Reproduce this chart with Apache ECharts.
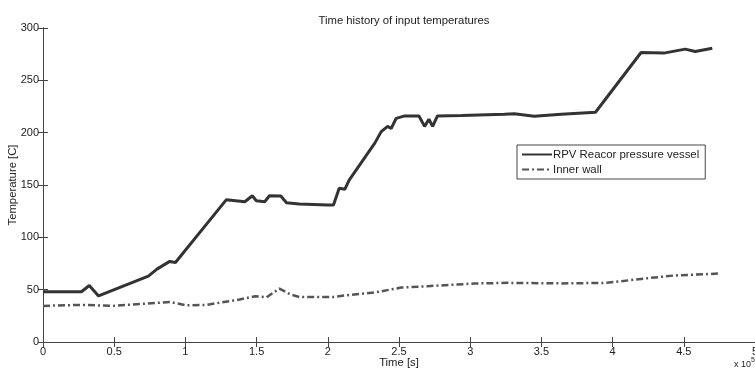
<!DOCTYPE html>
<html>
<head>
<meta charset="utf-8">
<script src="https://cdn.jsdelivr.net/npm/echarts@6/dist/echarts.min.js"></script>
<style>
  html, body { margin: 0; padding: 0; background: #fff; }
  #chart { width: 755px; height: 369px; }
</style>
</head>
<body>
<div id="chart"></div>
<script>
// time in seconds, temperature in C
const rpvTime = [0, 27000, 32500, 39000, 74000, 80000, 89000, 93000, 128800, 141700, 147000, 149800, 155700,
  159000, 167000, 171000, 180000, 200000, 204000, 208000, 212000, 215000, 233000, 237500, 242000, 244500,
  248000, 254000, 264000, 268000, 271000, 273600, 277000, 294000, 324000, 331000, 345000, 364000, 388000,
  420000, 436000, 451000, 458000, 470000];
const rpvTemp = [48, 48, 54, 44, 63, 69.6, 77, 76, 136, 134, 139.7, 135, 134,
  139.7, 139.5, 133, 131.8, 131, 131, 146.8, 146, 154.7, 190, 201, 206, 204,
  213.7, 216, 216, 206, 212.8, 206, 216, 216.5, 217.6, 218, 215.7, 217.6, 219.5,
  276.6, 276, 279.8, 277.5, 280.7];

const wallTime = [0, 27000, 49000, 73000, 89000, 101000, 115000, 138000, 149000, 157000, 166000, 174000,
  180000, 204000, 213000, 233000, 251500, 270000, 303000, 326000, 364000, 396000, 420000, 443000, 475000];
const wallTemp = [34.5, 35.5, 34.5, 36.7, 38.3, 35, 35.5, 40.6, 43.7, 42.7, 51, 45.3,
  43, 43, 44.6, 47.3, 52, 53.3, 55.9, 56.5, 56, 56.5, 60.3, 63.5, 65.4];

const xTicks = [0, 0.5, 1, 1.5, 2, 2.5, 3, 3.5, 4, 4.5, 5];
const yTicks = [0, 50, 100, 150, 200, 250, 300];

const pair = (xs, ys) => xs.map((x, i) => [x, ys[i]]);

const chart = echarts.init(document.getElementById('chart'));
const font = 'Liberation Sans, Arial, sans-serif';
const axisCol = '#444';

chart.setOption({
  backgroundColor: '#fff',
  animation: false,
  textStyle: { fontFamily: font },
  title: {
    text: 'Time history of input temperatures',
    left: 399, top: 10, textAlign: 'center',
    textStyle: { fontSize: 11.3, fontWeight: 'normal', color: '#222', fontFamily: font }
  },
  grid: { left: 43, right: 0, top: 28, bottom: 27, containLabel: false, outerBoundsMode: 'none' },
  legend: {
    orient: 'vertical', left: 517, top: 145,
    backgroundColor: '#fff', borderColor: '#444', borderWidth: 1,
    padding: [4, 6, 4, 4], itemGap: 4, itemWidth: 30, itemHeight: 6,
    itemStyle: { opacity: 0 },
    textStyle: { fontSize: 11.4, color: '#222', fontFamily: font, padding: [0, 0, 0, -4] },
    data: ['RPV Reacor pressure vessel', 'Inner wall']
  },
  xAxis: [{
    type: 'value', min: 0, max: 500000, interval: 50000,
    name: 'Time [s]', nameLocation: 'middle', nameGap: 15, nameMoveOverlap: false,
    nameTextStyle: { fontSize: 11.3, color: '#222' },
    axisLine: { lineStyle: { color: axisCol } },
    axisTick: { inside: true, length: 5, lineStyle: { color: axisCol } },
    axisLabel: { fontSize: 11, color: '#222', margin: 4,
      formatter: v => String(xTicks[Math.round(v / 50000)]) },
    splitLine: { show: false }
  }, {
    type: 'value', position: 'top', min: 0, max: 500000, interval: 50000,
    axisLine: { lineStyle: { color: axisCol } },
    axisTick: { inside: true, length: 5, lineStyle: { color: axisCol } },
    axisLabel: { show: false }, splitLine: { show: false }
  }],
  yAxis: [{
    type: 'value', min: 0, max: 300, interval: 50,
    name: 'Temperature [C]', nameLocation: 'middle', nameGap: 25, nameMoveOverlap: false,
    nameTextStyle: { fontSize: 11.3, color: '#222' },
    axisLine: { show: true, lineStyle: { color: axisCol } },
    axisTick: { show: true, inside: true, length: 5, lineStyle: { color: axisCol } },
    axisLabel: { fontSize: 11, color: '#222', margin: 4,
      formatter: v => String(yTicks[Math.round(v / 50)]) },
    splitLine: { show: false }
  }, {
    type: 'value', position: 'right', min: 0, max: 300, interval: 50,
    axisLine: { show: true, lineStyle: { color: axisCol } },
    axisTick: { show: true, inside: true, length: 5, lineStyle: { color: axisCol } },
    axisLabel: { show: false }, splitLine: { show: false }
  }],
  graphic: [{
    type: 'text', left: 734, top: 360,
    style: { text: 'x 10', fontSize: 9, fill: '#222', fontFamily: font }
  }, {
    type: 'text', left: 751, top: 357,
    style: { text: '5', fontSize: 7, fill: '#222', fontFamily: font }
  }],
  series: [{
    name: 'RPV Reacor pressure vessel', type: 'line', symbol: 'none',
    data: pair(rpvTime, rpvTemp),
    lineStyle: { color: '#333', width: 3 },
    itemStyle: { color: '#333' }
  }, {
    name: 'Inner wall', type: 'line', symbol: 'none',
    data: pair(wallTime, wallTemp),
    lineStyle: { color: '#555', width: 2.5, type: [7, 3, 2, 3] },
    itemStyle: { color: '#555' }
  }]
});
</script>
</body>
</html>
